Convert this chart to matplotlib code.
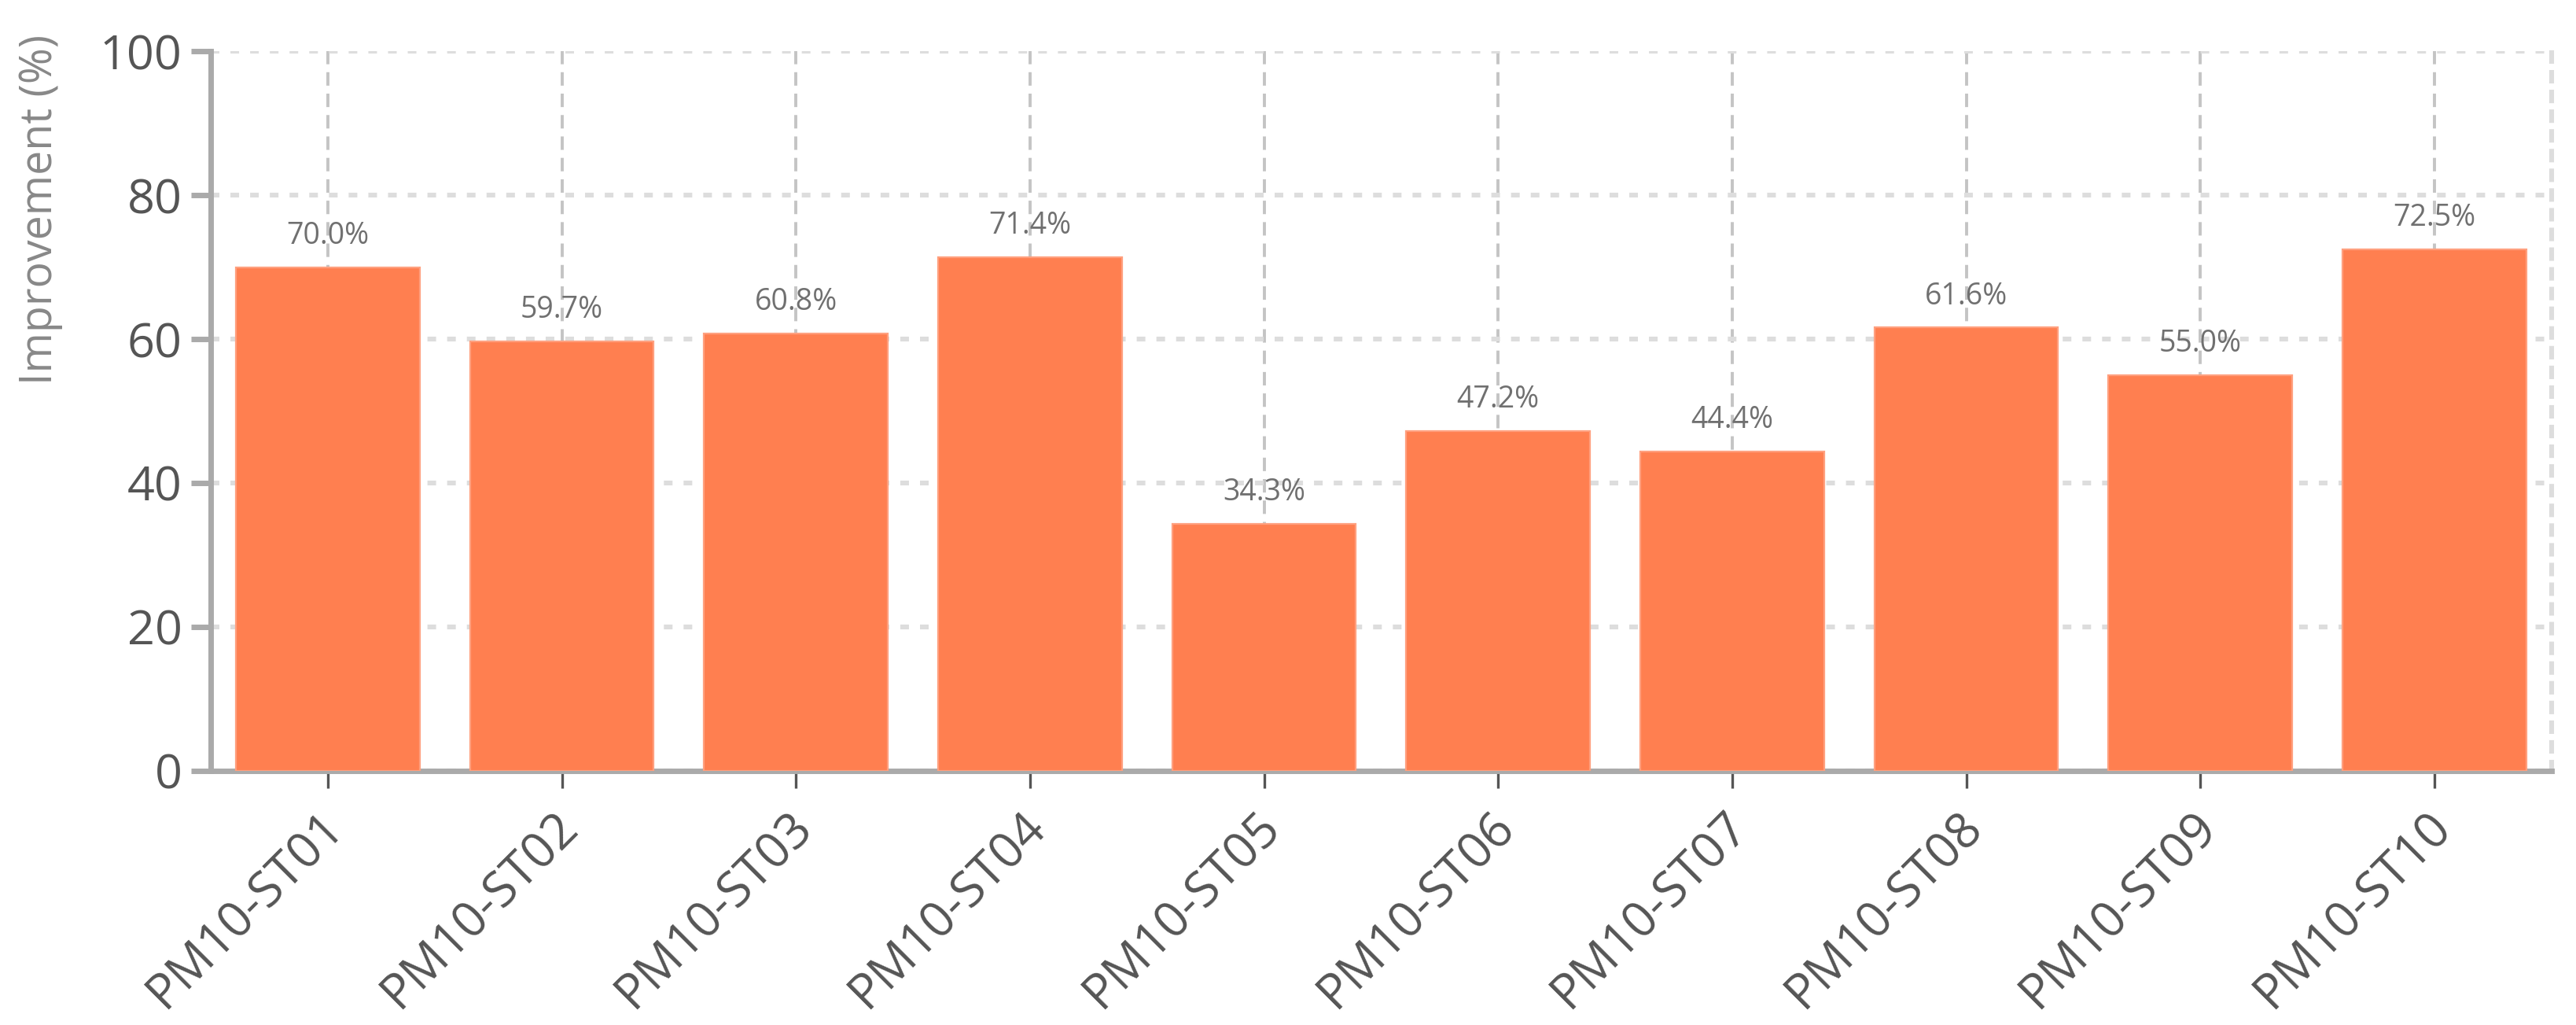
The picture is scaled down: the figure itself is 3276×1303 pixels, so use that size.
import matplotlib
matplotlib.use('Agg')
import matplotlib.pyplot as plt
import matplotlib.transforms as mtransforms
import numpy as np

# data
stations = ['PM10-ST01', 'PM10-ST02', 'PM10-ST03', 'PM10-ST04', 'PM10-ST05',
            'PM10-ST06', 'PM10-ST07', 'PM10-ST08', 'PM10-ST09', 'PM10-ST10']
improvement = [70.0, 59.7, 60.8, 71.4, 34.3, 47.2, 44.4, 61.6, 55.0, 72.5]
y_ticks = [0, 20, 40, 60, 80, 100]

plt.rcParams['font.family'] = ['Open Sans', 'DejaVu Sans']

fig = plt.figure(figsize=(16.38, 6.515), dpi=200)
ax = fig.add_axes([0.0818, 0.248, 0.9087, 0.702])

x = np.arange(len(stations))
bars = ax.bar(x, improvement, width=0.785, color='#FF7F50',
              edgecolor='#FFA07F', linewidth=0.8, zorder=3)

# value labels on top of the bars
for rect, val in zip(bars, improvement):
    ax.annotate(f'{val:.1f}%', (rect.get_x() + rect.get_width() / 2, rect.get_height()),
                xytext=(0, 7.5), textcoords='offset points', ha='center', va='bottom',
                fontsize=13.5, color='#707070', zorder=4)

ax.set_xlim(-0.5, 9.5)
ax.set_ylim(0, 100)
ax.set_yticks(y_ticks)
ax.set_xticks(x)

ax.tick_params(axis='x', length=8, width=1.2, color='#555555', pad=18.5)
ax.tick_params(axis='y', length=9, width=2.5, color='#AAAAAA', pad=4,
               labelsize=22, labelcolor='#555555')

ax.set_xticklabels(stations, rotation=45, ha='right', va='baseline', rotation_mode='anchor',
                   fontsize=22.5, color='#555555')

# shift rotated labels slightly right like the original (after tick_params!)
offset = mtransforms.ScaledTranslation(0.115, 0, fig.dpi_scale_trans)
for lab in ax.get_xticklabels():
    lab.set_transform(lab.get_transform() + offset)

ax.set_ylabel('Improvement (%)', fontsize=20, color='#888888')
ax.yaxis.set_label_coords(-0.063, 0.78)

# grid: dotted horizontal, dashed vertical
ax.grid(axis='y', color='#DDDDDD', linewidth=2.2, linestyle=(0, (1.8, 2.3)), zorder=0)
ax.grid(axis='x', color='#C4C4C4', linewidth=1.4, linestyle=(0, (4.4, 2.6)), zorder=0)

ax.spines['top'].set_visible(False)
ax.spines['left'].set_color('#AAAAAA')
ax.spines['left'].set_linewidth(2.5)
ax.spines['bottom'].set_color('#AAAAAA')
ax.spines['bottom'].set_linewidth(2.5)
ax.spines['right'].set_color('#DDDDDD')
ax.spines['right'].set_linewidth(2.2)
ax.spines['right'].set_linestyle((0, (1.8, 2.3)))

fig.savefig('out.png', dpi=200, facecolor='white')
